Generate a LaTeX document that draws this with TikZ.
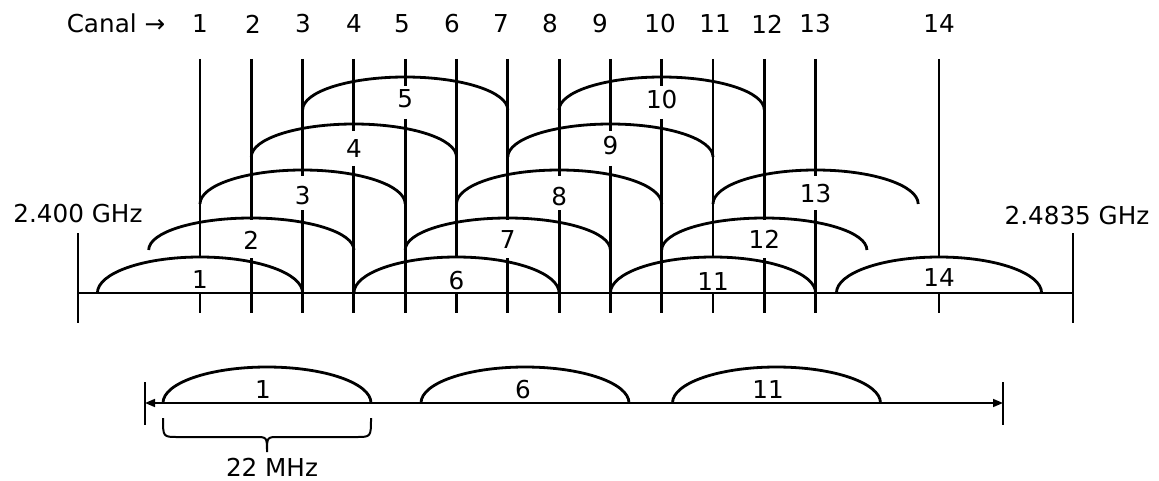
\documentclass[tikz,border=0pt]{standalone}
\usepackage{fontspec}
\setmainfont{DejaVu Sans}
\usetikzlibrary{arrows.meta}
\begin{document}
\begin{tikzpicture}[x=0.75pt,y=-0.75pt,
  lbl/.style={font=\fontsize{18.5}{20}\selectfont, inner sep=0pt},
  heavy/.style={line width=2.2pt},
  band/.style={line width=2.1pt},
  thinline/.style={line width=1.2pt},
  barline/.style={line width=1.5pt},
]
\useasboundingbox (0,0) rectangle (1159,481);

% channel header
\node[lbl] (canal) at (116,23) {Canal →};
\foreach \n/\x in {1/200,2/253,3/303,4/354,5/402,6/452,7/501,8/550,9/600,10/660,11/715,12/767,13/815,14/939}
  \node[lbl] (tl\n) at (\x,24) {\n};

% channel lines, bands and their labels
\foreach \n/\x/\b/\h/\gs/\ge/\ly in {
 1/200/293/27/258/293/280,
 2/251.3/250/24/220/258/240,
 3/302.6/204/25.5/176/210/196,
 4/353.9/157/24.75/131/166/149,
 5/405.2/110/24.75/86/119/99,
 6/456.5/293/27/258/293/281,
 7/507.8/250/24/220/258/240,
 8/559.1/204/25.5/176/210/197,
 9/610.4/157/24.75/131/166/146,
 10/661.7/110/24.75/86/119/100,
 11/713/293/27/258/293/282,
 12/764.3/250/24/220/258/239,
 13/815.6/204/25.5/176/210/194,
 14/939/293/27/258/293/278}
{
  \coordinate (top\n) at (\x,59);
  \coordinate (gs\n) at (\x,\gs);
  \coordinate (ge\n) at (\x,\ge);
  \coordinate (bot\n) at (\x,313);
  \coordinate (bs\n) at (\x-102.6,\b);
  \draw[heavy] (top\n) -- (gs\n);
  \draw[heavy] (ge\n) -- (bot\n);
  \draw[band] (bs\n) arc[start angle=180,end angle=0,x radius=76.95pt,y radius=\h pt];
  \node[lbl] (al\n) at (\x,\ly) {\n};
}

% frequency axis
\coordinate (axL) at (78,293);
\coordinate (axR) at (1073,293);
\coordinate (axLt) at (78,233);
\coordinate (axLb) at (78,323);
\coordinate (axRt) at (1073,233);
\coordinate (axRb) at (1073,323);
\draw[heavy] (axL) -- (axR);
\draw[heavy] (axLt) -- (axLb);
\draw[heavy] (axRt) -- (axRb);
\node[lbl] (fL) at (78,214) {2.400 GHz};
\node[lbl] (fR) at (1077,216) {2.4835 GHz};

% bottom: non-overlapping channels
\coordinate (bL) at (145,403);
\coordinate (bR) at (1003,403);
\coordinate (bLt) at (145,382);
\coordinate (bLb) at (145,425);
\coordinate (bRt) at (1003,382);
\coordinate (bRb) at (1003,425);
\draw[barline] (bLt) -- (bLb);
\draw[barline] (bRt) -- (bRb);
\draw[thinline,{Triangle[length=7.5pt,width=6pt]}-{Triangle[length=7.5pt,width=6pt]}] (bL) -- (bR);
\foreach \n/\c/\lx in {1/267/263,6/525/523,11/776.5/768}{
  \coordinate (ns\n) at (\c-104,403);
  \draw[band] (ns\n) arc[start angle=180,end angle=0,x radius=78pt,y radius=27pt];
  \node[lbl] (nl\n) at (\lx,390) {\n};
}

% brace
\coordinate (brL) at (163,418);
\coordinate (brTip) at (267,452);
\coordinate (brR) at (371,418);
\draw[barline] (brL) .. controls (163,437) .. (178,437) -- (255,437)
  .. controls (267,437) .. (brTip) .. controls (267,437) .. (279,437)
  -- (356,437) .. controls (371,437) .. (brR);
\node[lbl] (mhz) at (272,467) {22 MHz};
\end{tikzpicture}
\end{document}
